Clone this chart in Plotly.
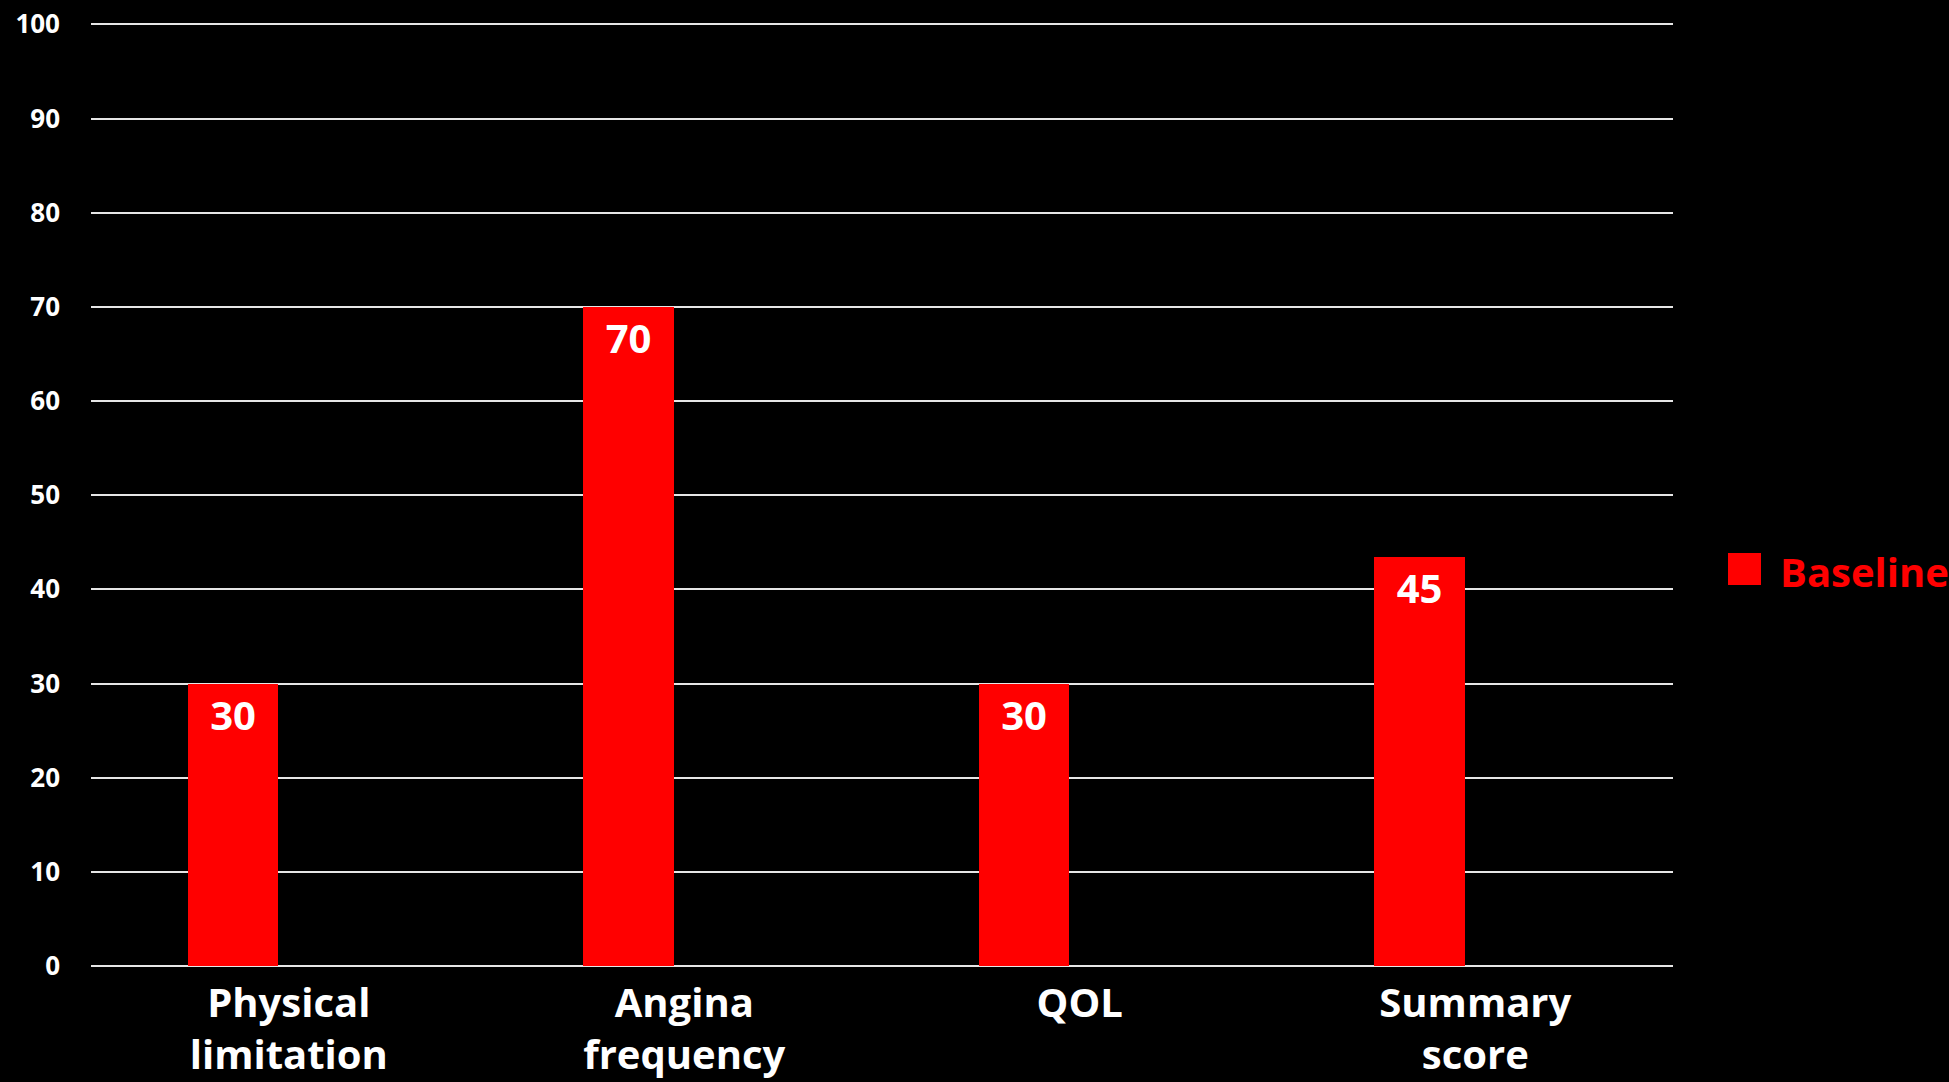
import plotly.graph_objects as go

categories = ["Physical<br>limitation", "Angina<br>frequency", "QOL", "Summary<br>score"]
baseline_values = [30, 70, 30, 43.4]
baseline_labels = ["30", "70", "30", "45"]
series_name = "Baseline"
y_ticks = list(range(0, 101, 10))

FONT = "Open Sans"
RED = "#FF0000"

fig = go.Figure()
fig.add_trace(go.Bar(
    x=categories,
    y=baseline_values,
    text=baseline_labels,
    textposition="inside",
    insidetextanchor="end",
    textangle=0,
    textfont=dict(family=FONT, size=40, color="white", weight="bold"),
    marker=dict(color=RED, line=dict(width=0)),
    width=0.228,
    offset=-0.255,
    name=series_name,
    showlegend=False,
    cliponaxis=False,
))

fig.update_layout(
    width=1949, height=1082,
    paper_bgcolor="black", plot_bgcolor="black",
    margin=dict(l=91, r=276, t=22, b=116, autoexpand=False),
    font=dict(family=FONT, color="white"),
    bargap=0,
    xaxis=dict(
        automargin=False,
        range=[-0.5, 3.5],
        showgrid=False,
        showline=False,
        zeroline=False,
        ticks="",
        tickfont=dict(family=FONT, size=40, color="white", weight="bold"),
        ticklabelstandoff=10,
    ),
    yaxis=dict(
        automargin=False,
        range=[0, 100.25],
        tickvals=y_ticks,
        showgrid=True,
        gridcolor="#e6e6e6",
        gridwidth=2,
        zeroline=True,
        zerolinecolor="#e6e6e6",
        zerolinewidth=2,
        showline=False,
        ticks="",
        ticklabelstandoff=30,
        tickfont=dict(family=FONT, size=26, color="white", weight="bold"),
    ),
)

# Legend drawn manually (large square marker like the reference)
fig.add_shape(type="rect", xref="paper", yref="paper",
              x0=(1728 - 91) / 1582, x1=(1761 - 91) / 1582,
              y0=(966 - 585) / 944, y1=(966 - 553) / 944,
              fillcolor=RED, line=dict(width=0))
fig.add_annotation(xref="paper", yref="paper",
                   x=(1778 - 91) / 1582, y=(966 - 571) / 944,
                   xanchor="left", yanchor="middle",
                   text=series_name, showarrow=False,
                   font=dict(family=FONT, size=40, color=RED, weight="bold"))

fig.write_html(
    "out.html",
    config={"displayModeBar": False},
    post_script="document.body.style.margin='0';document.body.style.overflow='hidden';document.body.style.background='black';",
)
